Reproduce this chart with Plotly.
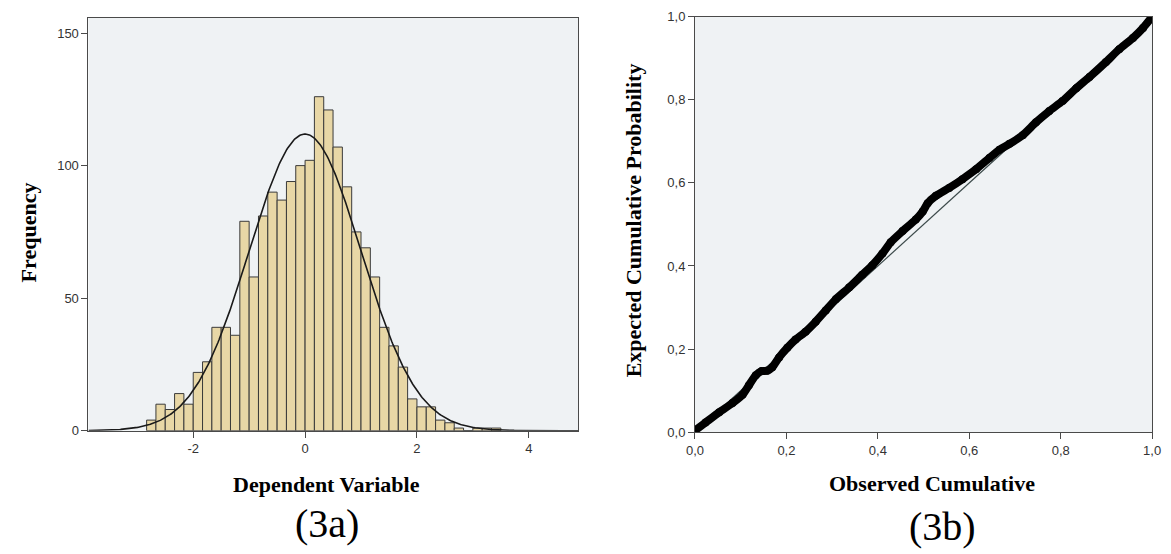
import numpy as np
import plotly.graph_objects as go

# ---------------- data: histogram of residuals (3a) ----------------
BIN_START = -17 / 6          # left edge of first bin
BIN_WIDTH = 1 / 6
COUNTS = [4, 10, 8, 14, 10, 22, 26, 39, 39, 36, 79, 58, 81, 90, 87, 94, 100, 102,
          126, 121, 107, 92, 75, 69, 58, 39, 32, 24, 12, 9, 9, 4, 3, 1, 0, 1, 1, 1]
RESID_MEAN = 0.0
RESID_SD = 1.0
HIST_X_TICKS = [-2, 0, 2, 4]
HIST_Y_TICKS = [0, 50, 100, 150]

# ---------------- data: normal P-P plot (3b) ----------------
OBSERVED_CUM = [0.000, 0.023, 0.053, 0.082, 0.104, 0.118, 0.133, 0.146, 0.158, 0.169,
                0.184, 0.202, 0.220, 0.242, 0.264, 0.286, 0.308, 0.337, 0.366, 0.388,
                0.410, 0.428, 0.454, 0.483, 0.498, 0.509, 0.527, 0.556, 0.585, 0.615,
                0.644, 0.666, 0.688, 0.717, 0.746, 0.775, 0.804, 0.834, 0.863, 0.899,
                0.928, 0.958, 0.980, 1.000]
EXPECTED_CUM = [0.004, 0.023, 0.048, 0.070, 0.090, 0.113, 0.137, 0.147, 0.148, 0.156,
                0.180, 0.203, 0.223, 0.242, 0.266, 0.293, 0.320, 0.348, 0.379, 0.402,
                0.430, 0.457, 0.484, 0.512, 0.531, 0.551, 0.569, 0.588, 0.609, 0.633,
                0.660, 0.680, 0.694, 0.715, 0.746, 0.773, 0.797, 0.828, 0.855, 0.891,
                0.922, 0.949, 0.973, 1.000]
PP_TICKS = [0.0, 0.2, 0.4, 0.6, 0.8, 1.0]
PP_TICK_LABELS = ["0,0", "0,2", "0,4", "0,6", "0,8", "1,0"]

# ---------------- styling ----------------
W, H = 1171, 554
PLOT_BG = "#EFF2F4"
BAR_FILL = "#E8D7A6"
EDGE = "#3A3A3A"
FRAME = "#4A4A4A"
TICK_FONT = dict(family="Liberation Sans, Arial, sans-serif", size=13, color="#333333")
SERIF = "Liberation Serif, Times New Roman, serif"

X1_RANGE = [-3.873, 4.887]
Y1_RANGE = [0, 155.8]


def px_x(p):
    return p / W


def px_y(p):
    return 1 - p / H


n_total = sum(COUNTS)
centers = [BIN_START + BIN_WIDTH * (i + 0.5) for i in range(len(COUNTS))]
xs = np.linspace(X1_RANGE[0], X1_RANGE[1], 500)
curve = n_total * BIN_WIDTH / (RESID_SD * np.sqrt(2 * np.pi)) * np.exp(-0.5 * ((xs - RESID_MEAN) / RESID_SD) ** 2)

fig = go.Figure()

fig.add_trace(go.Bar(
    x=centers, y=COUNTS, width=BIN_WIDTH,
    marker=dict(color=BAR_FILL, line=dict(color=EDGE, width=1)),
    xaxis="x", yaxis="y", hoverinfo="skip", showlegend=False,
))
fig.add_trace(go.Scatter(
    x=xs, y=curve, mode="lines", line=dict(color="#1A1A1A", width=1.6),
    xaxis="x", yaxis="y", hoverinfo="skip", showlegend=False,
))

fig.add_trace(go.Scatter(
    x=[0, 1], y=[0, 1], mode="lines", line=dict(color="#3C4A4A", width=1.2),
    xaxis="x2", yaxis="y2", hoverinfo="skip", showlegend=False,
))
fig.add_trace(go.Scatter(
    x=OBSERVED_CUM, y=EXPECTED_CUM, mode="lines+markers",
    line=dict(color="#000000", width=8, shape="spline", smoothing=0.6),
    marker=dict(color="#000000", size=8),
    xaxis="x2", yaxis="y2", hoverinfo="skip", showlegend=False,
))

axis_common = dict(
    showgrid=False, zeroline=False, showline=True, mirror=True,
    linecolor=FRAME, linewidth=1, ticks="outside", ticklen=6,
    tickcolor=FRAME, tickwidth=1, tickfont=TICK_FONT, fixedrange=True,
)

fig.update_layout(
    width=W, height=H,
    margin=dict(l=0, r=0, t=0, b=0),
    paper_bgcolor="white",
    plot_bgcolor=PLOT_BG,
    barmode="overlay",
    xaxis=dict(domain=[px_x(80.7), px_x(578.3)], range=X1_RANGE, anchor="y",
               tickvals=HIST_X_TICKS, ticktext=[str(v) for v in HIST_X_TICKS], **axis_common),
    yaxis=dict(domain=[px_y(435.5), px_y(11)], range=Y1_RANGE, anchor="x",
               tickvals=HIST_Y_TICKS, ticktext=[str(v) for v in HIST_Y_TICKS], **axis_common),
    xaxis2=dict(domain=[px_x(696.7), px_x(1161)], range=[0, 1], anchor="y2",
                tickvals=PP_TICKS, ticktext=PP_TICK_LABELS, **axis_common),
    yaxis2=dict(domain=[px_y(437), px_y(10)], range=[0, 1], anchor="x2",
                tickvals=PP_TICKS, ticktext=PP_TICK_LABELS, **axis_common),
)

label_font = dict(family=SERIF, size=22, color="#000000")
big_font = dict(family=SERIF, size=40, color="#000000")

annotations = [
    dict(text="<b>Frequency</b>", x=px_x(20), y=px_y(232), textangle=-90, font=label_font),
    dict(text="<b>Dependent Variable</b>", x=px_x(322), y=px_y(491), font=label_font),
    dict(text="(3a)", x=px_x(323), y=px_y(531), font=big_font),
    dict(text="<b>Expected Cumulative Probability</b>", x=px_x(634), y=px_y(219), textangle=-90, font=label_font),
    dict(text="<b>Observed Cumulative</b>", x=px_x(937), y=px_y(490), font=label_font),
    dict(text="(3b)", x=px_x(948), y=px_y(534), font=big_font),
]
for a in annotations:
    fig.add_annotation(xref="paper", yref="paper", showarrow=False,
                       xanchor="center", yanchor="middle", **a)

fig.write_html("out.html")
